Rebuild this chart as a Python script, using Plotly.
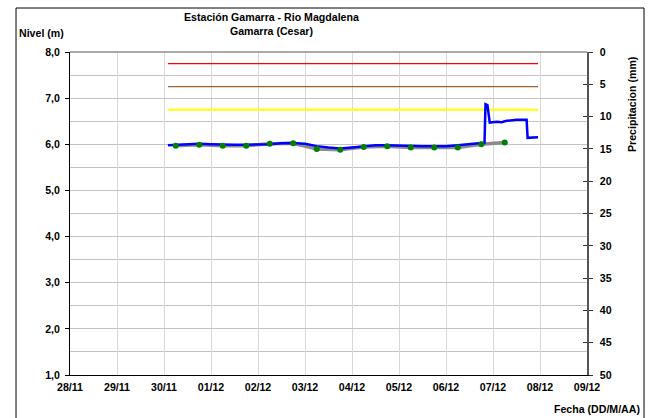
import plotly.graph_objects as go

# nivel horario (sensor automatico)
t_nivel = ["2021-11-30 02:00", "2021-11-30 06:00", "2021-11-30 12:00", "2021-11-30 18:00",
           "2021-12-01 00:00", "2021-12-01 06:00", "2021-12-01 12:00", "2021-12-01 18:00",
           "2021-12-02 00:00", "2021-12-02 06:00", "2021-12-02 12:00", "2021-12-02 18:00",
           "2021-12-03 00:00", "2021-12-03 06:00", "2021-12-03 12:00", "2021-12-03 18:00",
           "2021-12-04 00:00", "2021-12-04 06:00", "2021-12-04 12:00", "2021-12-04 18:00",
           "2021-12-05 00:00", "2021-12-05 06:00", "2021-12-05 12:00", "2021-12-05 18:00",
           "2021-12-06 00:00", "2021-12-06 06:00", "2021-12-06 12:00", "2021-12-06 18:00",
           "2021-12-06 19:40", "2021-12-06 20:10", "2021-12-06 21:10", "2021-12-06 22:20",
           "2021-12-07 02:00", "2021-12-07 04:30", "2021-12-07 06:00", "2021-12-07 07:10",
           "2021-12-07 12:00", "2021-12-07 17:10", "2021-12-07 17:40", "2021-12-07 23:00"]
nivel = [5.98, 5.99, 6.00, 6.01,
         6.00, 5.99, 5.99, 5.99,
         5.99, 6.00, 6.02, 6.03,
         6.01, 5.96, 5.93, 5.91,
         5.93, 5.96, 5.98, 5.98,
         5.97, 5.96, 5.96, 5.96,
         5.96, 5.98, 6.01, 6.03,
         6.03, 6.87, 6.85, 6.47,
         6.49, 6.48, 6.50, 6.51,
         6.53, 6.53, 6.14, 6.15]

# lecturas de mira (06:00 y 18:00)
t_mira = ["2021-11-30 06:00", "2021-11-30 18:00", "2021-12-01 06:00", "2021-12-01 18:00",
          "2021-12-02 06:00", "2021-12-02 18:00", "2021-12-03 06:00", "2021-12-03 18:00",
          "2021-12-04 06:00", "2021-12-04 18:00", "2021-12-05 06:00", "2021-12-05 18:00",
          "2021-12-06 06:00", "2021-12-06 18:00", "2021-12-07 06:00"]
mira = [5.97, 5.99, 5.97, 5.97, 6.01, 6.02, 5.90, 5.88, 5.94, 5.96,
        5.93, 5.93, 5.93, 6.00, 6.04]

# niveles de alerta
t_alerta = ["2021-11-30 02:00", "2021-12-07 23:00"]
alerta_roja = [7.75, 7.75]
alerta_naranja = [7.25, 7.25]
alerta_amarilla = [6.75, 6.75]

FONT = "Liberation Sans, Arial, sans-serif"
FS = 10.6

fig = go.Figure()
fig.add_trace(go.Scatter(x=t_alerta, y=alerta_roja, mode="lines",
                         line=dict(color="#ff0000", width=1.3)))
fig.add_trace(go.Scatter(x=t_alerta, y=alerta_naranja, mode="lines",
                         line=dict(color="#a0622d", width=1.3)))
fig.add_trace(go.Scatter(x=t_alerta, y=alerta_amarilla, mode="lines",
                         line=dict(color="#ffff00", width=2)))
fig.add_trace(go.Scatter(x=t_mira, y=mira, mode="lines",
                         line=dict(color="#8c8c8c", width=3.5)))
fig.add_trace(go.Scatter(x=t_nivel, y=nivel, mode="lines",
                         line=dict(color="#0000ff", width=2.5)))
fig.add_trace(go.Scatter(x=t_mira, y=mira, mode="markers",
                         marker=dict(color="#008000", size=6)))
# eje de precipitacion (sin datos en el periodo)
fig.add_trace(go.Scatter(x=[], y=[], yaxis="y2"))
fig.add_trace(go.Scatter(x=[], y=[], yaxis="y3"))

bold = dict(family=FONT, size=FS, color="black", weight="bold")

fig.update_layout(
    width=663, height=418,
    margin=dict(l=70, r=76, t=52, b=43),
    paper_bgcolor="white", plot_bgcolor="white",
    showlegend=False,
    separators=",.",
    font=dict(family=FONT, size=FS, color="black"),
    xaxis=dict(range=["2021-11-28", "2021-12-09"], type="date",
               dtick=86400000, tickformat="%d/%m",
               showgrid=True, gridcolor="#d9d9d9", gridwidth=1,
               showline=True, linecolor="black", linewidth=1,
               ticks="", zeroline=False, tickfont=bold, ticklabelstandoff=2),
    yaxis=dict(range=[1, 8], tickvals=[1, 2, 3, 4, 5, 6, 7, 8], tickformat=".1f",
               showgrid=True, gridcolor="#c4c4c4", gridwidth=1,
               minor=dict(dtick=0.5, showgrid=True, gridcolor="#c4c4c4"),
               showline=True, linecolor="black", linewidth=1,
               ticks="outside", ticklen=4, tickcolor="black", zeroline=False,
               tickfont=bold, ticklabelstandoff=3),
    yaxis2=dict(range=[50, 0], overlaying="y", side="right", dtick=5,
                showgrid=False, zeroline=False,
                showline=True, linecolor="#555555", linewidth=1.5,
                ticks="outside", ticklen=4, tickcolor="#333333",
                tickfont=bold, ticklabelstandoff=5),
    yaxis3=dict(range=[50, 0], overlaying="y", side="right", dtick=5,
                showgrid=False, zeroline=False, showline=False,
                ticks="inside", ticklen=4, tickcolor="#333333",
                showticklabels=False),
)

# borde superior del area de grafico
fig.add_shape(type="line", xref="paper", yref="paper", x0=0, x1=1, y0=1, y1=1,
              line=dict(color="#8c8c8c", width=1.5))
# marco exterior
fig.add_shape(type="rect", xref="paper", yref="paper",
              x0=-0.1044, x1=1.1103, y0=-0.145, y1=1.1362,
              line=dict(color="black", width=1))

fig.add_annotation(text="Estación Gamarra - Rio Magdalena<br>Gamarra (Cesar)",
                   xref="paper", yref="paper", x=(271 - 70) / 517, y=(375 - 9) / 323,
                   xanchor="center", yanchor="top", showarrow=False, font=bold)
fig.add_annotation(text="Nivel (m)", xref="paper", yref="paper",
                   x=(17 - 70) / 517, y=(375 - 33) / 323,
                   xanchor="left", yanchor="middle", showarrow=False, font=bold)
fig.add_annotation(text="Precipitacion (mm)", xref="paper", yref="paper",
                   x=(632 - 70) / 517, y=(375 - 105) / 323, textangle=-90,
                   xanchor="center", yanchor="middle", showarrow=False, font=bold)
fig.add_annotation(text="Fecha (DD/M/AA)", xref="paper", yref="paper",
                   x=(642 - 70) / 517, y=(375 - 409) / 323,
                   xanchor="right", yanchor="middle", showarrow=False, font=bold)

fig.write_html("out.html", config=dict(displayModeBar=False),
               post_script="document.body.style.margin='0';")
